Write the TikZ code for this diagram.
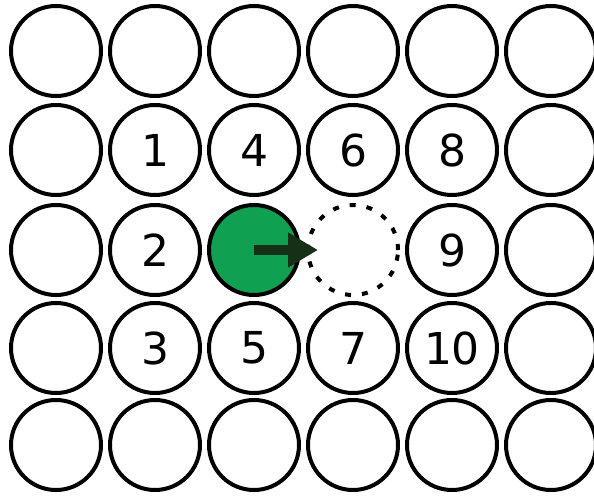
\documentclass[tikz,border=0pt]{standalone}
\usepackage{fontspec}
\setmainfont{DejaVu Sans}
\usetikzlibrary{arrows.meta}
\definecolor{ballgreen}{RGB}{16,160,82}
\definecolor{arrowgreen}{RGB}{22,48,24}
\begin{document}
\begin{tikzpicture}[x=1pt,y=-1pt,
  ball/.style={circle,draw=black,line width=4pt,minimum size=90pt,inner sep=0pt,font=\fontsize{44}{44}\selectfont},
  moving/.style={ball,fill=ballgreen},
  hole/.style={circle,draw=black,line width=4pt,minimum size=90pt,inner sep=0pt,dash pattern=on 6pt off 11pt}]
\useasboundingbox (0,0) rectangle (594,498);
\begin{scope}
\clip (0,0) rectangle (594,498);
% columns 56,155,254,353,452,551 ; rows 51,150,250,348,445
\foreach \c/\xx in {0/56,1/155,2/254,3/353,4/452,5/551}{
  \foreach \r/\yy in {0/51,4/445}{
    \node[ball] (b\c\r) at (\xx,\yy) {};
  }
}
\node[ball] (b01) at (56,150) {};
\node[ball] (b11) at (155,150) {1};
\node[ball] (b21) at (254,150) {4};
\node[ball] (b31) at (353,150) {6};
\node[ball] (b41) at (452,150) {8};
\node[ball] (b51) at (551,150) {};
\node[ball] (b02) at (56,250) {};
\node[ball] (b12) at (155,250) {2};
\node[moving] (b22) at (254,250) {};
\node[hole] (b32) at (353,250) {};
\node[ball] (b42) at (452,250) {9};
\node[ball] (b52) at (551,250) {};
\node[ball] (b03) at (56,348) {};
\node[ball] (b13) at (155,348) {3};
\node[ball] (b23) at (254,348) {5};
\node[ball] (b33) at (353,348) {7};
\node[ball] (b43) at (452,348) {10};
\node[ball] (b53) at (551,348) {};
\coordinate (tip) at (318,250);
\draw[arrowgreen,line width=10pt,-{Triangle[length=30pt,width=33pt]}] (b22.center) -- (tip);
\end{scope}
\end{tikzpicture}
\end{document}
